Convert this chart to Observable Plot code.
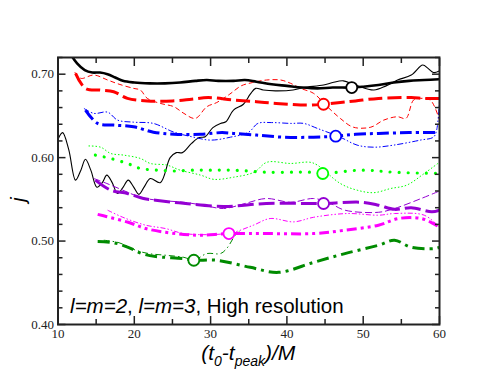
<!DOCTYPE html>
<html>
<head>
<meta charset="utf-8">
<script src="https://cdn.jsdelivr.net/npm/d3@7"></script>
<script src="https://cdn.jsdelivr.net/npm/@observablehq/plot@0.6"></script>
<style>
  html, body { margin: 0; padding: 0; background: #fff; }
  #chart g[aria-label$="tick label"], #chart g[aria-label$="tick label"] text {
    font-family: "Liberation Serif", "Times New Roman", serif !important;
  }
</style>
</head>
<body>
<div id="chart"></div>
<script>
// ---- data ----
const blackThickX = [11.5, 12.5, 13.5, 14.5, 15.5, 16.5, 17.5, 18.5, 20, 22, 24, 26, 28, 29.5, 31, 33, 34.5, 36, 38, 40, 42, 44, 46, 48.5, 50, 52, 54, 56, 58, 60];
const blackThickY = [0.726, 0.713, 0.705, 0.702, 0.702, 0.700, 0.696, 0.692, 0.690, 0.689, 0.689, 0.690, 0.692, 0.693, 0.692, 0.692, 0.693, 0.691, 0.688, 0.686, 0.684, 0.683, 0.684, 0.684, 0.685, 0.687, 0.690, 0.692, 0.693, 0.694];
const blackThinX = [10, 10.6, 11.4, 12.3, 13, 13.6, 14.3, 15.1, 15.8, 16.4, 17.1, 17.8, 18.5, 19.2, 19.9, 20.6, 21.3, 22.1, 23.4, 24.7, 25.5, 26.3, 27.5, 28.5, 29.3, 30.3, 31.3, 32, 33, 34.3, 35.2, 35.9, 36.9, 38.5, 40.8, 42.2, 44.8, 46, 47.4, 49, 51.4, 53, 54.5, 56.3, 57.8, 58.5, 59.2, 60];
const blackThinY = [0.622, 0.630, 0.610, 0.573, 0.585, 0.598, 0.585, 0.5645, 0.570, 0.579, 0.570, 0.557, 0.564, 0.573, 0.565, 0.556, 0.565, 0.575, 0.570, 0.600, 0.606, 0.606, 0.617, 0.624, 0.625, 0.636, 0.641, 0.643, 0.657, 0.664, 0.676, 0.683, 0.681, 0.680, 0.681, 0.684, 0.687, 0.690, 0.692, 0.687, 0.681, 0.686, 0.693, 0.699, 0.711, 0.707, 0.702, 0.704];

const redThickX = [12.3, 13.6, 15.6, 17.3, 19.1, 21.7, 25, 27.5, 29.7, 33, 36, 38.6, 42.6, 44.8, 47, 49, 52, 56.3, 58, 60];
const redThickY = [0.701, 0.683, 0.681, 0.679, 0.671, 0.668, 0.668, 0.670, 0.672, 0.669, 0.667, 0.665, 0.663, 0.664, 0.666, 0.668, 0.671, 0.672, 0.671, 0.671];
const redThinX = [12.2, 13, 14.7, 16.5, 18, 19.9, 20.8, 21.7, 23.4, 25.2, 26.5, 28, 29.5, 30.8, 32.5, 34, 35.5, 37.3, 39.2, 40.5, 41.8, 43.5, 45.3, 47, 48.7, 51, 52.7, 54.5, 55.6, 56.6, 57.5, 58.8, 60];
const redThinY = [0.7025, 0.695, 0.699, 0.693, 0.688, 0.683, 0.681, 0.671, 0.665, 0.661, 0.653, 0.647, 0.661, 0.666, 0.676, 0.686, 0.690, 0.693, 0.693, 0.689, 0.683, 0.677, 0.661, 0.647, 0.6365, 0.6365, 0.645, 0.649, 0.647, 0.669, 0.671, 0.669, 0.645];

const blueThickX = [13.6, 15.2, 17.3, 19.9, 22.5, 25.2, 28.7, 31.5, 33, 36, 39.6, 43.5, 46.4, 49, 52, 56, 60];
const blueThickY = [0.657, 0.641, 0.639, 0.637, 0.6305, 0.628, 0.628, 0.630, 0.629, 0.627, 0.6245, 0.6245, 0.6257, 0.628, 0.629, 0.630, 0.630];
const blueThinX = [13.4, 14.7, 16.5, 17.8, 19.9, 22.5, 25.2, 27.8, 30, 32.6, 35, 36.2, 38, 40.5, 42.2, 44, 47, 49.2, 51.4, 54, 57.5, 59.2, 59.6, 60];
const blueThinY = [0.659, 0.653, 0.6545, 0.645, 0.6425, 0.641, 0.6305, 0.6245, 0.621, 0.6245, 0.6305, 0.641, 0.642, 0.641, 0.641, 0.635, 0.6245, 0.615, 0.6125, 0.615, 0.621, 0.6245, 0.632, 0.668];

const limeThickX = [14.9, 16.9, 19.1, 20.8, 23, 25.2, 27.8, 30, 33, 37.3, 43, 44.7, 49.8, 54, 60];
const limeThickY = [0.603, 0.599, 0.593, 0.587, 0.585, 0.584, 0.585, 0.585, 0.585, 0.5825, 0.5825, 0.581, 0.585, 0.5825, 0.581];
const limeThinX = [14, 15.6, 16.9, 18.6, 20.8, 22.1, 24.3, 26, 28.7, 30.4, 33, 35.7, 37.4, 40.5, 43, 44, 47, 49.2, 51.4, 53.6, 55.7, 58, 60];
const limeThinY = [0.614, 0.6125, 0.605, 0.603, 0.599, 0.593, 0.591, 0.585, 0.579, 0.574, 0.5765, 0.5825, 0.5945, 0.593, 0.5945, 0.591, 0.569, 0.561, 0.558, 0.563, 0.567, 0.581, 0.5945];

const purpleThickX = [14.9, 16.9, 19.1, 21.2, 22.8, 26.7, 31.7, 37.3, 43.5, 44.8, 49.8, 52, 54.1, 56.3, 59, 60];
const purpleThickY = [0.573, 0.561, 0.557, 0.551, 0.549, 0.545, 0.5415, 0.545, 0.545, 0.545, 0.5465, 0.543, 0.538, 0.540, 0.535, 0.537];
const purpleThinX = [14.7, 16.4, 18.5, 20.8, 23, 26.5, 29, 31.7, 34.5, 37.3, 40.5, 43.5, 45.5, 47.6, 52, 54.1, 57.6, 60];
const purpleThinY = [0.575, 0.569, 0.561, 0.5525, 0.549, 0.5465, 0.543, 0.539, 0.545, 0.551, 0.5465, 0.551, 0.546, 0.537, 0.5345, 0.539, 0.551, 0.560];

const magentaThickX = [15.2, 16.3, 19.2, 21.5, 24.1, 26.5, 28.7, 32.4, 37.3, 43.5, 47.6, 52, 54.6, 57.6, 59.2, 60];
const magentaThickY = [0.532, 0.5295, 0.5225, 0.515, 0.5105, 0.508, 0.507, 0.509, 0.509, 0.509, 0.513, 0.519, 0.527, 0.527, 0.521, 0.5165];
const magentaThinX = [16.5, 18.5, 21.5, 24.1, 26.5, 30.8, 33, 35.6, 37.8, 40.9, 43.5, 47.9, 52, 54.1, 58, 60];
const magentaThinY = [0.537, 0.5285, 0.519, 0.515, 0.509, 0.508, 0.5105, 0.519, 0.527, 0.523, 0.5285, 0.533, 0.531, 0.533, 0.531, 0.5165];

const dgreenThickX = [15.2, 17.3, 19.2, 21, 22.8, 26.5, 27.8, 30.8, 35.2, 38.9, 43.5, 47.6, 52, 54.1, 56.3, 59.4, 60];
const dgreenThickY = [0.4995, 0.498, 0.4925, 0.485, 0.4815, 0.479, 0.477, 0.477, 0.4685, 0.4625, 0.4745, 0.485, 0.495, 0.501, 0.4925, 0.491, 0.4925];
const dgreenThinX = [16, 18, 20.2, 21.9, 24.1, 26.5, 27.8, 29.5, 31.3, 32.1, 33.4, 33.8];
const dgreenThinY = [0.501, 0.498, 0.489, 0.485, 0.483, 0.4805, 0.477, 0.485, 0.485, 0.491, 0.509, 0.511];

const markerX = [48.5, 44.8, 46.4, 44.7, 44.8, 32.4, 27.8];
const markerY = [0.684, 0.664, 0.6257, 0.581, 0.545, 0.509, 0.477];
const markerColor = ["#000000", "#ff0000", "#0000ff", "#00ff00", "#9400d3", "#ff00ff", "#008b00"];

const xMajorTicks = [10, 20, 30, 40, 50, 60];
const xMinorTicks = [15, 25, 35, 45, 55];
const yMajorTicks = [0.40, 0.50, 0.60, 0.70];
const yMinorTicks = [0.42, 0.44, 0.46, 0.48, 0.52, 0.54, 0.56, 0.58, 0.62, 0.64, 0.66, 0.68, 0.72];

// ---- build ----
const zip = (xs, ys) => xs.map((x, i) => ({x, y: ys[i]}));
const SERIF = "Liberation Serif, Times New Roman, serif";
const SANS = "Liberation Sans, Arial, Helvetica, sans-serif";

const series = [
  {d: zip(blackThinX, blackThinY), c: "#000000", w: 1.1, dash: null},
  {d: zip(redThinX, redThinY), c: "#ff0000", w: 1, dash: "5,3"},
  {d: zip(blueThinX, blueThinY), c: "#0000ff", w: 1, dash: "6,2,1.5,2,1.5,2"},
  {d: zip(limeThinX, limeThinY), c: "#00ff00", w: 1, dash: "1.5,2"},
  {d: zip(purpleThinX, purpleThinY), c: "#9400d3", w: 1, dash: "7,3"},
  {d: zip(magentaThinX, magentaThinY), c: "#ff00ff", w: 1, dash: "5,2,1.5,2,1.5,2"},
  {d: zip(dgreenThinX, dgreenThinY), c: "#008b00", w: 1, dash: "6,3,1.5,3"},
  {d: zip(blackThickX, blackThickY), c: "#000000", w: 2.6, dash: null},
  {d: zip(redThickX, redThickY), c: "#ff0000", w: 3, dash: "14,5"},
  {d: zip(blueThickX, blueThickY), c: "#0000ff", w: 3, dash: "12,4,3,4"},
  {d: zip(limeThickX, limeThickY), c: "#00ff00", w: 3.2, dash: "0.01,9", cap: "round"},
  {d: zip(purpleThickX, purpleThickY), c: "#9400d3", w: 3, dash: "16,5"},
  {d: zip(magentaThickX, magentaThickY), c: "#ff00ff", w: 3, dash: "10,4,3,4,3,4"},
  {d: zip(dgreenThickX, dgreenThickY), c: "#008b00", w: 3, dash: "12,5,3,5"}
];

const markers = markerX.map((x, i) => ({x, y: markerY[i], c: markerColor[i]}));
const blank = () => "";

const plot = Plot.plot({
  width: 494,
  height: 382,
  marginLeft: 57.5,
  marginRight: 55,
  marginTop: 57,
  marginBottom: 58,
  style: {background: "#fff", overflow: "visible", fontFamily: SERIF},
  x: {domain: [10, 60], label: null},
  y: {domain: [0.40, 0.72], label: null},
  marks: [
    ...series.map(s => Plot.line(s.d, {x: "x", y: "y", stroke: s.c, strokeWidth: s.w, strokeDasharray: s.dash, strokeLinecap: s.cap || "butt", curve: "catmull-rom", clip: true})),
    Plot.dot(markers, {x: "x", y: "y", r: 5.5, stroke: "c", fill: "white", strokeWidth: 1.8}),
    // bottom axis labels
    Plot.axisX({ticks: xMajorTicks, tickSize: 0, tickPadding: 4, fontSize: 13, fontFamily: SERIF, fill: "#222", label: null}),
    Plot.axisX({ticks: xMajorTicks, tickSize: -8, tickFormat: blank, label: null, strokeWidth: 1.5, stroke: "#222"}),
    Plot.axisX({ticks: xMinorTicks, tickSize: -5, tickFormat: blank, label: null, strokeWidth: 1.5, stroke: "#222"}),
    Plot.axisX({anchor: "top", ticks: xMajorTicks, tickSize: -8, tickFormat: blank, label: null, strokeWidth: 1.5, stroke: "#222"}),
    Plot.axisX({anchor: "top", ticks: xMinorTicks, tickSize: -5, tickFormat: blank, label: null, strokeWidth: 1.5, stroke: "#222"}),
    // left axis labels
    Plot.axisY({ticks: yMajorTicks, tickSize: 0, tickPadding: 4, tickFormat: d3.format(".2f"), fontSize: 13, fontFamily: SERIF, fill: "#222", label: null}),
    Plot.axisY({ticks: yMajorTicks, tickSize: -8, tickFormat: blank, label: null, strokeWidth: 1.5, stroke: "#222"}),
    Plot.axisY({ticks: yMinorTicks, tickSize: -5, tickFormat: blank, label: null, strokeWidth: 1.5, stroke: "#222"}),
    Plot.axisY({anchor: "right", ticks: yMajorTicks, tickSize: -8, tickFormat: blank, label: null, strokeWidth: 1.5, stroke: "#222"}),
    Plot.axisY({anchor: "right", ticks: yMinorTicks, tickSize: -5, tickFormat: blank, label: null, strokeWidth: 1.5, stroke: "#222"}),
    Plot.frame({stroke: "#222", strokeWidth: 2}),
    // y-axis title
    Plot.text(["j"], {frameAnchor: "left", dx: -40, dy: 11, rotate: -90, fontFamily: SANS, fontStyle: "italic", fontSize: 21, fill: "#000"})
  ]
});

document.getElementById("chart").appendChild(plot);

// tick labels in a serif face, as in the reference
d3.select(plot).selectAll('g[aria-label$="tick label"]').attr("font-family", SERIF).style("font-family", SERIF);

// Multi-style texts (real text, with tspans)
const svg = d3.select(plot);
const xs = plot.scale("x");
const ys = plot.scale("y");

// x-axis title: (t0-tpeak)/M
const xt = svg.append("text")
  .attr("x", xs.apply(35))
  .attr("y", 360)
  .attr("text-anchor", "middle")
  .attr("font-family", SANS)
  .attr("font-style", "italic")
  .attr("font-size", 21)
  .attr("fill", "#000");
xt.append("tspan").text("(t");
xt.append("tspan").attr("font-size", 14).attr("dy", 6).text("0");
xt.append("tspan").attr("dy", -6).text("-t");
xt.append("tspan").attr("font-size", 14).attr("dy", 6).text("peak");
xt.append("tspan").attr("dy", -6).text(")/M");

// annotation
const an = svg.append("text")
  .attr("x", xs.apply(11.65))
  .attr("y", ys.apply(0.4135))
  .attr("text-anchor", "start")
  .attr("font-family", SANS)
  .attr("font-size", 20.5)
  .attr("fill", "#000");
an.append("tspan").attr("font-style", "italic").text("l=m=2");
an.append("tspan").text(", ");
an.append("tspan").attr("font-style", "italic").text("l=m=3");
an.append("tspan").text(", High resolution");
</script>
</body>
</html>
